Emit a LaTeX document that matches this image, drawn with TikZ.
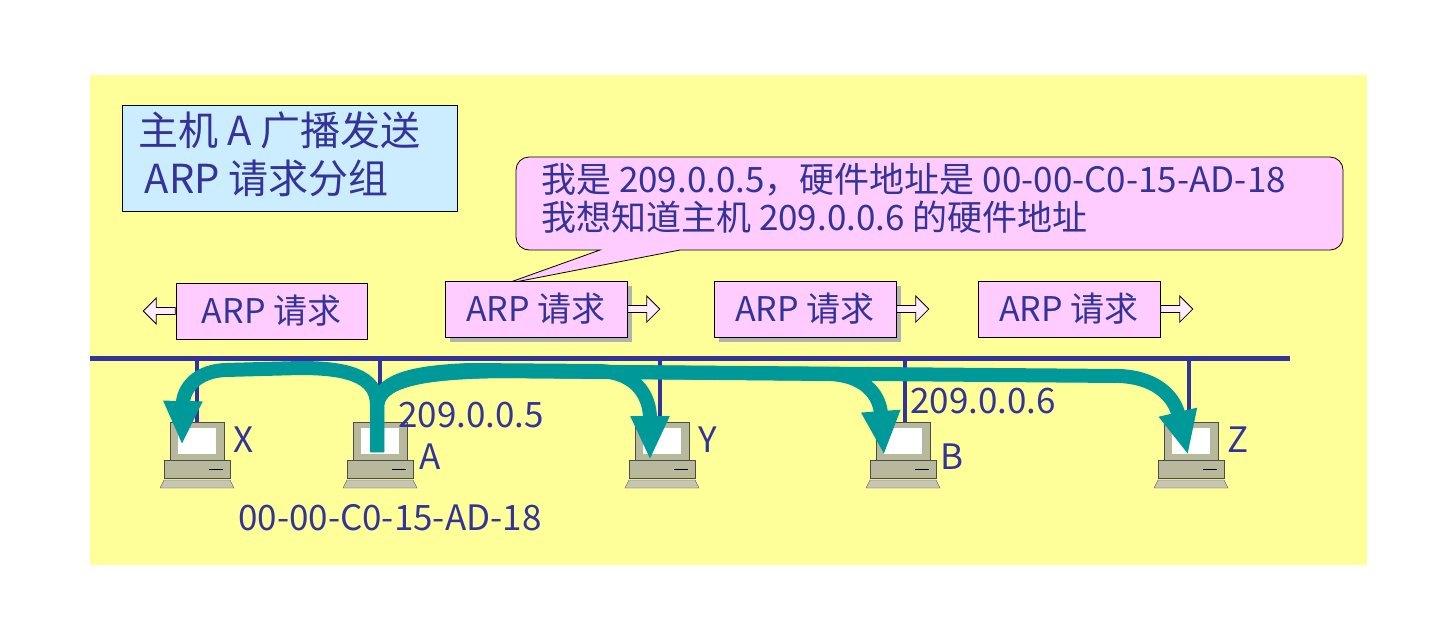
\documentclass[tikz,border=0pt]{standalone}
\usepackage{fontspec}
\setmainfont{Noto Sans CJK SC}
\usetikzlibrary{positioning,arrows.meta,shapes.arrows,shapes.callouts}
\definecolor{bgyellow}{HTML}{FFFF99}
\definecolor{navy}{HTML}{333399}
\definecolor{pinkbox}{HTML}{FFCCFF}
\definecolor{bluebox}{HTML}{CCECFF}
\definecolor{teal}{HTML}{009999}
\definecolor{pcgray}{HTML}{B8B89C}
\tikzstyle{arpbox}=[rectangle, draw=black, fill=pinkbox, thick, minimum width=182pt, minimum height=56pt, inner sep=0pt, text=navy, font=\fontsize{34}{40}\selectfont]
\tikzstyle{harrow}=[single arrow, draw=black, fill=pinkbox!40!white, thick, minimum height=32pt, minimum width=26pt, single arrow head extend=5pt, inner sep=1.5pt]
\tikzstyle{lbl}=[text=navy, font=\fontsize{35}{40}\selectfont, inner sep=0pt]
\tikzstyle{bus}=[line width=5pt, navy]
\tikzstyle{flow}=[line width=14pt, teal, -{Triangle[length=44pt,width=36pt]}]
\newcommand\pcnode[3]{
    \fill[pcgray, draw=gray!60!black, thin] (#2-27,#3-18) rectangle (#2+27,#3+20);
    \fill[white] (#2-19,#3-12) rectangle (#2+19,#3+14);
    \fill[pcgray, draw=gray!60!black, thin] (#2-33,#3+20) rectangle (#2+33,#3+38);
    \draw[black, thick] (#2+12,#3+29) -- (#2+26,#3+29);
    \fill[pcgray!80!white, draw=gray!60!black, thin] (#2-33,#3+40) -- (#2+33,#3+40) -- (#2+37,#3+48) -- (#2-37,#3+48) -- cycle;
    \coordinate (#1) at (#2,#3);
}
\begin{document}
\begin{tikzpicture}[x=1pt, y=-1pt]
    \useasboundingbox (0,0) rectangle (1450,625);
    \fill[bgyellow] (90,75) rectangle (1367,565);

    \draw[black, fill=bluebox] (122,105) rectangle (457,211);
    \node (title) [text=navy, align=left, font=\fontsize{40}{48}\selectfont, inner sep=0pt, anchor=north west] at (138,112) {主机 A 广播发送\\ \,ARP 请求分组};

    % callout
    \draw[black, thick, fill=pinkbox] (530,157) -- (1330,157) arc[start angle=90, end angle=0, radius=13pt] -- (1343,237) arc[start angle=0, end angle=-90, radius=13pt] -- (680,250) -- (505,284) -- (600,250) -- (529,250) arc[start angle=-90, end angle=-180, radius=13pt] -- (516,170) arc[start angle=180, end angle=90, radius=13pt] -- cycle;
    \node (say) [lbl, align=left, anchor=north west] at (541,163) {我是 209.0.0.5，硬件地址是 00-00-C0-15-AD-18\\[-2pt]我想知道主机 209.0.0.6 的硬件地址};

    % frames
    \fill[gray!60] (450,286) rectangle (632,342);
    \fill[gray!60] (719,286) rectangle (901,342);
    \node (r1) [arpbox, minimum width=191pt] at (271.5,311) {ARP 请求};
    \node (r2) [arpbox] at (536,309) {ARP 请求};
    \node (r3) [arpbox] at (805,309) {ARP 请求};
    \node (r4) [arpbox] at (1069,309) {ARP 请求};
    \node (a1) [harrow, shape border rotate=180, anchor=east] at (r1.west) {};
    \node (a2) [harrow, anchor=west] at (r2.east) {};
    \node (a3) [harrow, anchor=west] at (r3.east) {};
    \node (a4) [harrow, anchor=west] at (r4.east) {};

    % bus
    \draw[bus] (90,358) -- (1290,358);
    \foreach \x in {197,380,660,905,1189}
        \draw[line width=4pt, navy] (\x,358) -- (\x,422);

    \pcnode{pcx}{197}{440}
    \pcnode{pca}{380}{440}
    \pcnode{pcy}{662}{440}
    \pcnode{pcb}{903}{440}
    \pcnode{pcz}{1191}{440}

    \node (lx) [lbl, anchor=west] at (233,440) {X};
    \node (la) [lbl, anchor=west] at (419,457) {A};
    \node (ly) [lbl, anchor=west] at (698,440) {Y};
    \node (lb) [lbl, anchor=west] at (940,457) {B};
    \node (lz) [lbl, anchor=west] at (1227,440) {Z};
    \node (ipa) [lbl, anchor=west] at (398,415) {209.0.0.5};
    \node (ipb) [lbl, anchor=west] at (910,401) {209.0.0.6};
    \node (mac) [lbl, anchor=west] at (238,518) {00-00-C0-15-AD-18};

    % broadcast
    \coordinate (src) at (377,452);
    \draw[flow] (src) -- (377,405) .. controls (377,375) and (345,368) .. (300,368) -- (225,370) .. controls (190,372) and (183,395) .. (182,445);
    \draw[flow] (src) -- (377,405) .. controls (380,378) and (420,372) .. (470,370) -- (600,371) .. controls (640,373) and (650,400) .. (650,460);
    \draw[flow] (src) -- (377,405) .. controls (380,378) and (430,372) .. (500,371) -- (830,374) .. controls (870,376) and (880,400) .. (884,455);
    \draw[flow] (src) -- (377,405) .. controls (380,378) and (430,372) .. (500,371) -- (1120,376) .. controls (1160,378) and (1175,400) .. (1188,455);
\end{tikzpicture}
\end{document}
